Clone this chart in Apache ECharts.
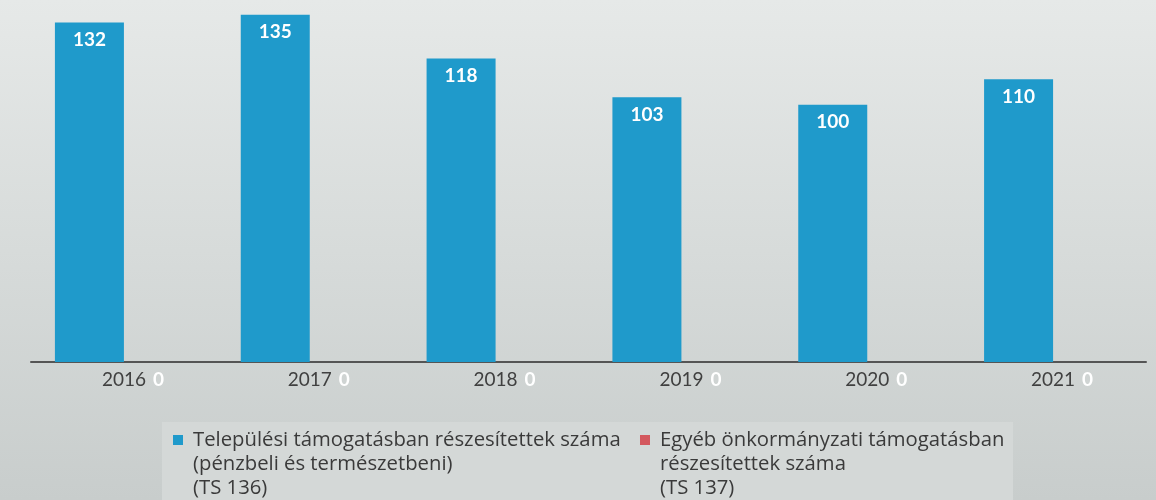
<!DOCTYPE html>
<html>
<head>
<meta charset="utf-8">
<script src="https://cdn.jsdelivr.net/npm/echarts@6/dist/echarts.min.js"></script>
<style>
  html, body { margin: 0; padding: 0; }
  #chart { width: 1156px; height: 500px; }
</style>
</head>
<body>
<div id="chart"></div>
<script>
const years = ['2016', '2017', '2018', '2019', '2020', '2021']
const telepulesi = [132, 135, 118, 103, 100, 110]
const egyeb = [0, 0, 0, 0, 0, 0]
const seriesNames = [
  'Települési támogatásban részesítettek száma\n(pénzbeli és természetbeni)\n(TS 136)',
  'Egyéb önkormányzati támogatásban\nrészesítettek száma\n(TS 137)'
]
const colors = ['#1f9acb', '#d3585e']
const font = 'Lato, "Open Sans", sans-serif'

const chart = echarts.init(document.getElementById('chart'))

// square marker at the top of a tall box, so it lines up with the first text line
// (the tiny dot at the bottom right only stretches the box)
const legendIcon = 'path://M0,0H10V10H0Z M15,58h0.01v0.01h-0.01Z'
const legendText = {
  fontFamily: '"Open Sans", sans-serif',
  fontSize: 20.3,
  color: '#3a3a3a',
  lineHeight: 24
}

const option = {
  backgroundColor: {
    type: 'linear', x: 0, y: 0, x2: 0, y2: 1,
    colorStops: [
      { offset: 0, color: '#e6e9e8' },
      { offset: 0.5, color: '#d7dbda' },
      { offset: 1, color: '#c8cdcc' }
    ]
  },
  animation: false,
  graphic: [{
    type: 'rect',
    z: -1,
    shape: { x: 162, y: 422, width: 851, height: 80 },
    style: { fill: '#d4d8d7' }
  }],
  grid: { left: 31, right: 10, top: 2, bottom: 138 },
  legend: [
    {
      data: [seriesNames[0]],
      left: 168, top: 423,
      icon: legendIcon, itemWidth: 15, itemHeight: 58,
      textStyle: legendText
    },
    {
      data: [seriesNames[1]],
      left: 635, top: 423,
      icon: legendIcon, itemWidth: 15, itemHeight: 58,
      textStyle: legendText
    }
  ],
  xAxis: {
    type: 'category',
    data: years,
    axisLine: { lineStyle: { color: '#555', width: 2 } },
    axisTick: { show: false },
    axisLabel: { margin: 8, fontFamily: font, fontSize: 19, color: '#404040' }
  },
  yAxis: {
    type: 'value',
    min: 0, max: 140,
    show: false,
    splitLine: { show: false }
  },
  series: [
    {
      name: seriesNames[0],
      type: 'bar',
      data: telepulesi,
      barWidth: 69,
      barGap: '0%',
      itemStyle: { color: colors[0] },
      label: {
        show: true, position: 'insideTop', distance: 8,
        color: '#fff', fontFamily: font, fontWeight: 'bold', fontSize: 19
      }
    },
    {
      name: seriesNames[1],
      type: 'bar',
      data: egyeb,
      barWidth: 69,
      barGap: '0%',
      itemStyle: { color: colors[1] },
      label: {
        show: true, position: 'bottom', distance: 8,
        color: '#fff', fontFamily: font, fontWeight: 'bold', fontSize: 19
      }
    }
  ]
}

chart.setOption(option)
</script>
</body>
</html>
